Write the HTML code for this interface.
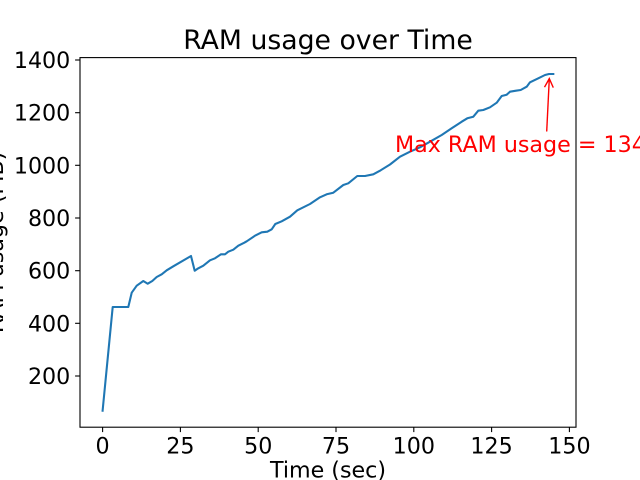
<!DOCTYPE html>
<html>
<head>
<meta charset="utf-8">
<style>
html,body{margin:0;padding:0;background:#fff;}
svg{display:block;}
text{font-family:"DejaVu Sans","Liberation Sans",sans-serif;}
</style>
</head>
<body>
<svg width="640" height="480" viewBox="0 0 640 480" xmlns="http://www.w3.org/2000/svg">
<rect x="0" y="0" width="640" height="480" fill="#ffffff"/>

<!-- title -->
<text x="328" y="49" font-size="26.7" text-anchor="middle" fill="#000">RAM usage over Time</text>

<!-- data line -->
<polyline fill="none" stroke="#1f77b4" stroke-width="2.08" stroke-linejoin="round" stroke-linecap="square"
points="102.6,410.7 112.7,307 128.3,307 131.7,292.7 136.7,285.7 143.3,281 147.7,283.7 152.3,281 156.7,277 161.7,274.3 166.7,270.3 173.3,266.3 191,256 194.7,270.7 198.3,268.3 203.3,265.7 210,260.3 215,258.3 221,254.3 225,254.3 228.3,251.7 233.3,249.7 238.3,245.7 244.3,242.7 246.7,241.3 255,235.7 261.7,232.3 267.3,231.7 271.7,229.3 275.3,224 281.7,221.3 290,216.7 297.3,210.3 310,204 320,197.3 326.7,194.3 333.3,192.7 343.3,185 348.3,183.3 357.3,176 365,176 373.3,174.3 380,170.7 390,164.5 400,156.7 410,151.7 420,147.3 430,141.7 441.7,135 451.7,128.3 461.7,121.7 467.3,118.3 473.3,116.7 478.3,110.7 483.3,110 490,107.3 496.7,102.7 501.7,96 506.7,94.7 510,91.7 516,90.7 520.7,90 526.7,86.7 530,82.3 538.3,78.3 545,75 549,74 553.3,74"/>

<!-- axes spines -->
<rect x="80" y="57.6" width="496" height="369.6" fill="none" stroke="#000" stroke-width="1.1"/>

<!-- x ticks -->
<g stroke="#000" stroke-width="1.1">
<line x1="102.6" y1="427.2" x2="102.6" y2="432.1"/>
<line x1="180.4" y1="427.2" x2="180.4" y2="432.1"/>
<line x1="258.2" y1="427.2" x2="258.2" y2="432.1"/>
<line x1="336" y1="427.2" x2="336" y2="432.1"/>
<line x1="413.8" y1="427.2" x2="413.8" y2="432.1"/>
<line x1="491.6" y1="427.2" x2="491.6" y2="432.1"/>
<line x1="569.4" y1="427.2" x2="569.4" y2="432.1"/>
</g>
<g font-size="22.2" text-anchor="middle" fill="#000">
<text x="102.6" y="453.5">0</text>
<text x="180.4" y="453.5">25</text>
<text x="258.2" y="453.5">50</text>
<text x="336" y="453.5">75</text>
<text x="413.8" y="453.5">100</text>
<text x="491.6" y="453.5">125</text>
<text x="569.4" y="453.5">150</text>
</g>

<!-- y ticks -->
<g stroke="#000" stroke-width="1.1">
<line x1="75.1" y1="376" x2="80" y2="376"/>
<line x1="75.1" y1="323.3" x2="80" y2="323.3"/>
<line x1="75.1" y1="270.7" x2="80" y2="270.7"/>
<line x1="75.1" y1="218" x2="80" y2="218"/>
<line x1="75.1" y1="165.3" x2="80" y2="165.3"/>
<line x1="75.1" y1="112.7" x2="80" y2="112.7"/>
<line x1="75.1" y1="60" x2="80" y2="60"/>
</g>
<g font-size="22.2" text-anchor="end" fill="#000">
<text x="70.3" y="384">200</text>
<text x="70.3" y="331.3">400</text>
<text x="70.3" y="278.7">600</text>
<text x="70.3" y="226">800</text>
<text x="70.3" y="173.3">1000</text>
<text x="70.3" y="120.7">1200</text>
<text x="70.3" y="68">1400</text>
</g>

<!-- axis labels -->
<text x="328" y="477.5" font-size="22.2" text-anchor="middle" fill="#000">Time (sec)</text>
<text transform="translate(3.2,242.4) rotate(-90)" font-size="22.2" text-anchor="middle" fill="#000">RAM usage (MB)</text>

<!-- annotation -->
<text x="395" y="152" font-size="22.2" fill="#ff0000">Max RAM usage = 1345.2 MB</text>
<g stroke="#ff0000" stroke-width="1.39" fill="none" stroke-linecap="butt">
<line x1="546.7" y1="131.5" x2="549.3" y2="78.6"/>
<polyline points="544.5,87.2 549.3,78.6 553.3,87.6" stroke-linejoin="miter"/>
</g>
</svg>
</body>
</html>
